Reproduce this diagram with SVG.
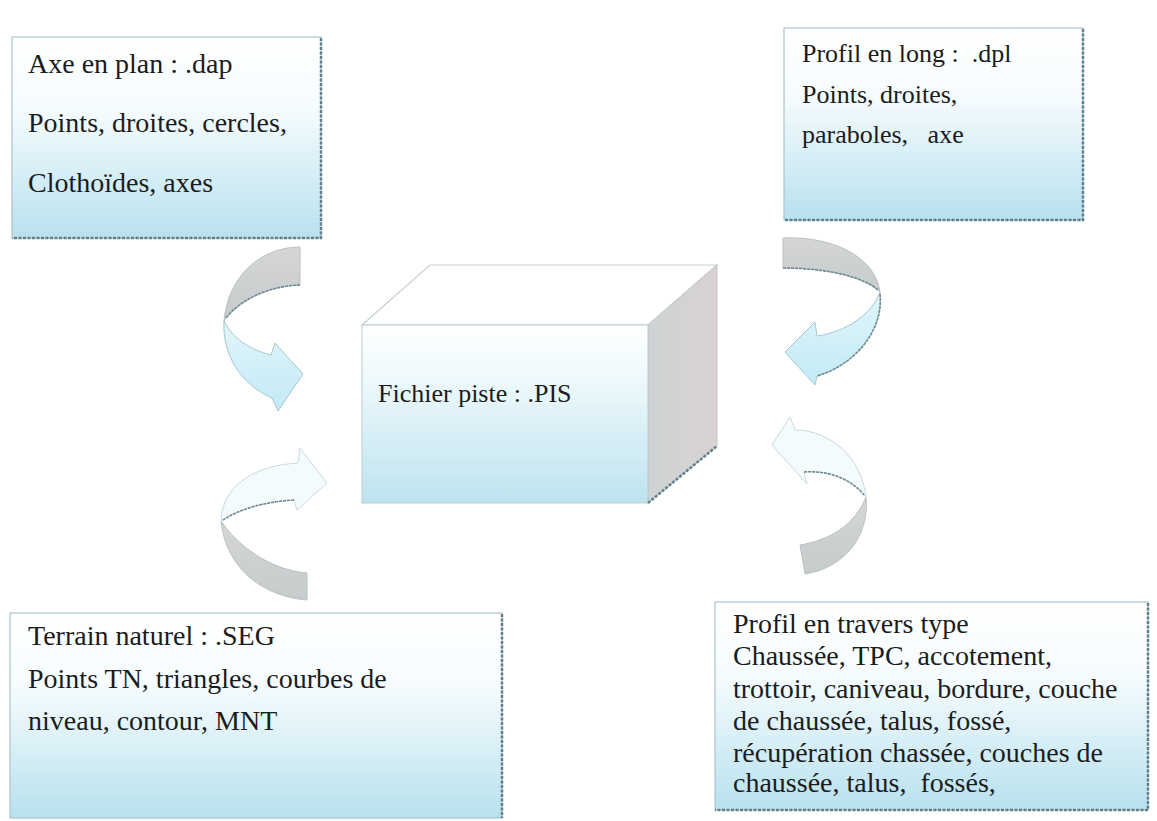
<svg xmlns="http://www.w3.org/2000/svg" width="1157" height="821" viewBox="0 0 1157 821">
<defs>
<linearGradient id="boxg" x1="0" y1="0" x2="0" y2="1">
<stop offset="0" stop-color="#ffffff"/>
<stop offset="0.35" stop-color="#f6fcfe"/>
<stop offset="1" stop-color="#b8e1ee"/>
</linearGradient>
<linearGradient id="frontg" x1="0" y1="0" x2="0" y2="1">
<stop offset="0" stop-color="#ffffff"/>
<stop offset="0.3" stop-color="#eef9fc"/>
<stop offset="1" stop-color="#bde3ef"/>
</linearGradient>
<linearGradient id="sideg" x1="0" y1="0" x2="1" y2="0">
<stop offset="0" stop-color="#cfd3d3"/>
<stop offset="1" stop-color="#d9d2d2"/>
</linearGradient>
<linearGradient id="grayg" x1="0" y1="0" x2="0" y2="1">
<stop offset="0" stop-color="#d6d6d6"/>
<stop offset="1" stop-color="#c6cbcb"/>
</linearGradient>
<linearGradient id="blueg" x1="0" y1="0" x2="0" y2="1">
<stop offset="0" stop-color="#e2f5fa"/>
<stop offset="1" stop-color="#c2eaf6"/>
</linearGradient>
</defs>
<style>
.box{fill:url(#boxg);stroke:#a9c4ce;stroke-width:1.2}
.shadow{fill:none;stroke:#5f808c;stroke-width:2.5;stroke-dasharray:3 1.5}
text{fill:#1c1c1c;white-space:pre;font-family:'Liberation Serif',Tinos,'Times New Roman',Times,'Nimbus Roman','DejaVu Serif',serif}
.gray{fill:url(#grayg);stroke:#b9c2c4;stroke-width:1}
.blue{fill:url(#blueg);stroke:#a9c6cf;stroke-width:1}
.pale{fill:#f4fbfd;stroke:#c9d9de;stroke-width:1}
.edge{fill:none;stroke:#6e8a93;stroke-width:1.6;stroke-dasharray:3 1}
</style>
<rect width="1157" height="821" fill="#ffffff"/>

<g id="connectors">
<g id="arrow-plan">
<path class="gray" d="M300,247 C262,247 228,275 224,321 C238,302 266,286 300,285 Z"/>
<path class="blue" d="M224,321 C222,356 242,385 272,398 L278,411 L303,374 L275,343 L271,355 C250,350 232,338 224,321 Z"/>
<path class="edge" d="M300,285 C266,286 238,302 226,318"/>
</g>
<g id="arrow-long">
<path class="gray" d="M783,238 C830,236 875,255 880,292 C865,278 830,268 783,268 Z"/>
<path class="blue" d="M880,292 C884,330 855,365 817,376 L815,385 L785,352 L815,322 L817,336 C845,332 872,315 880,292 Z"/>
<path class="edge" d="M783,268 C830,268 865,278 878,290"/>
<path class="edge" d="M880,294 C884,330 855,365 817,376"/>
</g>
<g id="arrow-terrain">
<path class="gray" d="M307,600 C265,597 226,570 221,521 C238,546 270,570 307,573 Z"/>
<path class="pale" d="M221,521 C222,490 248,466 298,463 L300,448 L327,483 L297,510 L294,500 C262,502 238,510 221,521 Z"/>
<path class="edge" d="M294,500 C262,502 238,510 223,520"/>
</g>
<g id="arrow-travers">
<path class="pale" d="M795,430 C830,430 862,458 866,497 C852,480 830,470 804,472 L807,484 L772,445 L790,417 Z"/>
<path class="gray" d="M866,497 C870,535 845,568 805,574 L800,545 C830,540 855,525 866,497 Z"/>
<path class="edge" d="M804,472 C830,470 852,480 864,495"/>
</g>
</g>

<g id="node-axe-plan">
<rect class="box" x="12" y="37" width="309" height="201"/>
<path class="shadow" d="M321,38 V238 H12"/>
<text x="28" y="73" font-size="28">Axe en plan : .dap</text>
<text x="28" y="132" font-size="28">Points, droites, cercles,</text>
<text x="28" y="192" font-size="28">Clothoïdes, axes</text>
</g>

<g id="node-profil-long">
<rect class="box" x="784" y="28" width="299" height="192"/>
<path class="shadow" d="M1083,29 V220 H784"/>
<text x="802" y="62" font-size="26">Profil en long :  .dpl</text>
<text x="802" y="103" font-size="26">Points, droites,</text>
<text x="802" y="143" font-size="26">paraboles,   axe</text>
</g>

<g id="node-fichier-piste">
<polygon points="362,325 430,265 717,265 648,325" fill="#ffffff" stroke="#c5cfd3" stroke-width="1.2"/>
<polygon points="648,325 717,265 717,446 648,503" fill="url(#sideg)" stroke="#c0c8ca" stroke-width="1"/>
<rect x="362" y="325" width="286" height="178" fill="url(#frontg)" stroke="#b5cdd5" stroke-width="1"/>
<path class="shadow" d="M648,503 L717,446"/>
<text x="378" y="402" font-size="26">Fichier piste : .PIS</text>
</g>

<g id="node-terrain">
<rect class="box" x="10" y="613" width="492" height="205"/>
<path class="shadow" d="M502,614 V818"/>
<text x="28" y="645" font-size="28">Terrain naturel : .SEG</text>
<text x="28" y="688" font-size="28">Points TN, triangles, courbes de</text>
<text x="28" y="730" font-size="28">niveau, contour, MNT</text>
</g>

<g id="node-profil-travers">
<rect class="box" x="715" y="602" width="433" height="208"/>
<path class="shadow" d="M1148,603 V810 H715"/>
<text x="733" y="633" font-size="28">Profil en travers type</text>
<text x="733" y="665" font-size="28">Chaussée, TPC, accotement,</text>
<text x="733" y="698" font-size="28">trottoir, caniveau, bordure, couche</text>
<text x="733" y="730" font-size="28">de chaussée, talus, fossé,</text>
<text x="733" y="762" font-size="28">récupération chassée, couches de</text>
<text x="733" y="792" font-size="28">chaussée, talus,  fossés,</text>
</g>
</svg>
